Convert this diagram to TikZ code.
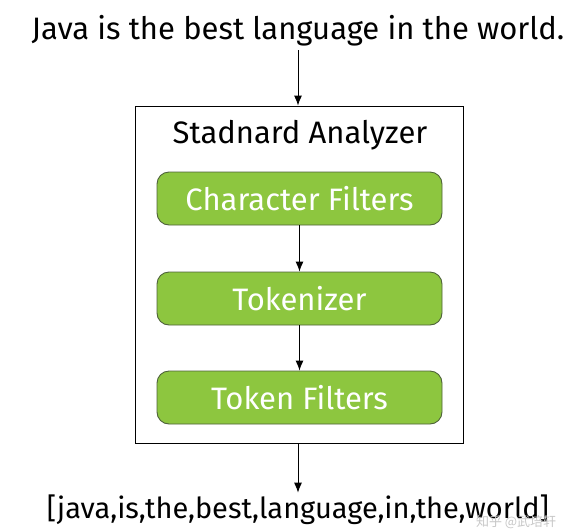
\documentclass[tikz,border=0pt]{standalone}
\usepackage{fontspec}
\setmainfont{Fira Sans}
\newfontfamily\cjkfont{Noto Sans CJK SC}
\usetikzlibrary{arrows,arrows.meta,calc}
\definecolor{leaf}{RGB}{141,198,63}
\definecolor{leafedge}{RGB}{78,98,58}

\begin{document}
\begin{tikzpicture}[x=1pt,y=-1pt, >={Latex[length=10pt,width=8pt]}, line width=0.9pt,
    stage/.style={draw=leafedge, fill=leaf, rounded corners=12pt, minimum width=285pt, minimum height=53pt, text=white, font=\fontsize{31}{31}\selectfont},
    phrase/.style={font=\fontsize{31}{31}\selectfont}]
            \useasboundingbox (0,0) rectangle (584,531);
            \node[phrase] at (298,31) (sentence) {Java is the best language in the world.};
            \node[draw, minimum width=328pt, minimum height=337pt] at (299,274.5) (analyzer) {};
            \node[phrase] at (300,135) (title) {Stadnard Analyzer};
            \node[stage] at (299.5,198.5) (cf) {Character Filters};
            \node[stage] at (299.5,298.5) (tok) {Tokenizer};
            \node[stage] at (299.5,397.5) (tf) {Token Filters};
            \node[phrase, font=\fontsize{29}{29}\selectfont, inner sep=2pt] at (298,510) (terms) {[java,is,the,best,language,in,the,world]};
            \node[anchor=east, text=black!22, font=\cjkfont\fontsize{13}{13}\selectfont] at (560,522) (mark) {知乎 @武培轩};
            \draw[->] (sentence) -- (sentence |- analyzer.north);
            \draw[->] (cf) -- (tok);
            \draw[->] (tok) -- (tf);
            \draw[->] (analyzer.south -| terms) -- (terms);
        \end{tikzpicture}
\end{document}
